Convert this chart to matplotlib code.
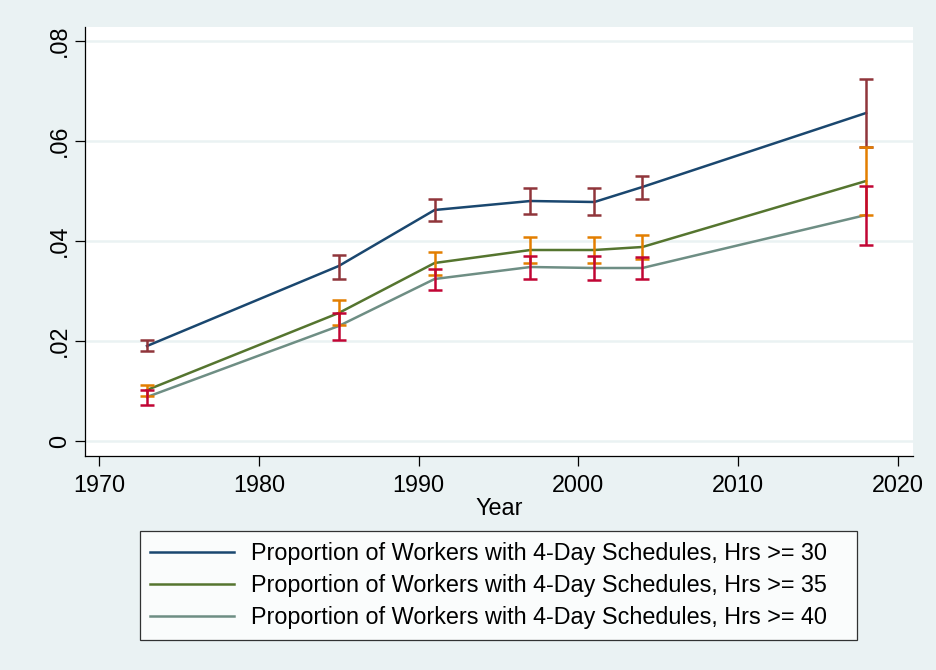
import matplotlib
matplotlib.use('Agg')
import matplotlib.pyplot as plt

plt.rcParams['font.family'] = ['Liberation Sans', 'DejaVu Sans']

years = [1973, 1985, 1991, 1997, 2001, 2004, 2018]

labels = [
    'Proportion of Workers with 4-Day Schedules, Hrs >= 30',
    'Proportion of Workers with 4-Day Schedules, Hrs >= 35',
    'Proportion of Workers with 4-Day Schedules, Hrs >= 40',
]

# point estimates
hrs30 = [0.0190, 0.0350, 0.0462, 0.0480, 0.0478, 0.0508, 0.0656]
hrs35 = [0.0102, 0.0256, 0.0356, 0.0382, 0.0382, 0.0388, 0.0520]
hrs40 = [0.0088, 0.0230, 0.0324, 0.0348, 0.0346, 0.0346, 0.0452]

# confidence intervals (upper, lower)
hrs30_hi = [0.0202, 0.0372, 0.0484, 0.0506, 0.0506, 0.0530, 0.0724]
hrs30_lo = [0.0180, 0.0324, 0.0440, 0.0454, 0.0452, 0.0484, 0.0588]
hrs35_hi = [0.0112, 0.0282, 0.0378, 0.0408, 0.0408, 0.0412, 0.0588]
hrs35_lo = [0.0090, 0.0232, 0.0332, 0.0356, 0.0356, 0.0364, 0.0452]
hrs40_hi = [0.0102, 0.0256, 0.0344, 0.0370, 0.0370, 0.0368, 0.0510]
hrs40_lo = [0.0072, 0.0202, 0.0302, 0.0324, 0.0322, 0.0324, 0.0392]

line_colors = ['#1a476f', '#55752f', '#6e8e84']
cap_colors = ['#90353b', '#e37e00', '#c10534']

fs = 16.8

fig = plt.figure(figsize=(9.37, 6.70), dpi=100)
fig.patch.set_facecolor('#eaf2f3')
ax = fig.add_axes([85 / 937, (670 - 456) / 670, 828 / 937, 429 / 670])
ax.set_facecolor('white')

series = [(hrs30, hrs30_hi, hrs30_lo), (hrs35, hrs35_hi, hrs35_lo), (hrs40, hrs40_hi, hrs40_lo)]
handles = []
for (est, hi, lo), lc, lab in zip(series, line_colors, labels):
    h, = ax.plot(years, est, color=lc, lw=1.8, label=lab, zorder=3)
    handles.append(h)
for (est, hi, lo), cc in zip(series, cap_colors):
    mid = [(a + b) / 2 for a, b in zip(hi, lo)]
    half = [(a - b) / 2 for a, b in zip(hi, lo)]
    ax.errorbar(years, mid, yerr=half, fmt='none', ecolor=cc, elinewidth=1.8,
                capsize=5, capthick=1.8, zorder=4)

ax.set_xlim(1969.12, 2020.94)
ax.set_ylim(-0.003, 0.0828)
ax.set_xticks([1970, 1980, 1990, 2000, 2010, 2020])
ax.set_yticks([0, 0.02, 0.04, 0.06, 0.08])
ax.set_yticklabels(['0', '.02', '.04', '.06', '.08'], rotation=90, va='center')
ax.grid(axis='y', color='#eaf2f3', lw=1.8, zorder=0)
ax.set_axisbelow(True)
for s in ['top', 'right']:
    ax.spines[s].set_visible(False)
for s in ['left', 'bottom']:
    ax.spines[s].set_linewidth(0.9)
ax.tick_params(axis='both', labelsize=fs, length=7, width=0.9)
ax.tick_params(axis='x', pad=6)
ax.tick_params(axis='y', pad=3)
ax.set_xlabel('Year', fontsize=fs, labelpad=0)

# legend box spans x 140..857, y 532..639 px in the figure
leg = fig.legend(handles=handles, loc='center',
                 bbox_to_anchor=(140 / 937, (670 - 639) / 670, 717 / 937, 107 / 670),
                 mode='expand', fontsize=fs, frameon=True, fancybox=False, edgecolor='black',
                 handlelength=3.6, handletextpad=0.7, labelspacing=0.39, borderpad=0.45,
                 borderaxespad=0)
leg.get_frame().set_linewidth(0.9)

fig.savefig('out.png', dpi=100, facecolor=fig.get_facecolor())
